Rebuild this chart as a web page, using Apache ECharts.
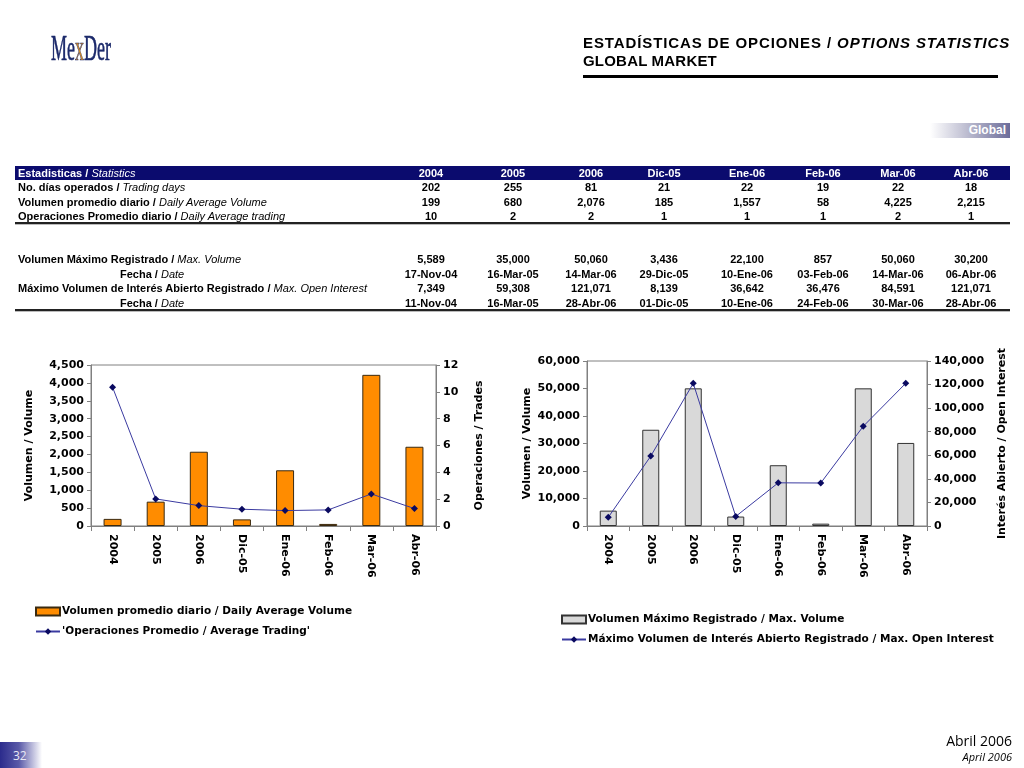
<!DOCTYPE html>
<html>
<head>
<meta charset="utf-8">
<script src="https://cdn.jsdelivr.net/npm/echarts@6/dist/echarts.min.js"></script>
<style>
  html,body{margin:0;padding:0;background:#fff;}
  #page{position:relative;width:1024px;height:768px;overflow:hidden;background:#fff;font-family:"Liberation Sans",Arial,sans-serif;}
  #chart{position:absolute;left:0;top:0;width:1024px;height:768px;}
  .abs{position:absolute;white-space:nowrap;}
  .cell{position:absolute;white-space:nowrap;font-size:11px;font-weight:bold;color:#000;line-height:14px;}
  .num{width:90px;text-align:center;}
  .it{font-style:italic;font-weight:normal;}
</style>
</head>
<body>
<div id="page">
  <div id="chart"></div>
  <div id="overlay"></div>
</div>
<script>
// ---------- DATA ----------
const categories = ['2004', '2005', '2006', 'Dic-05', 'Ene-06', 'Feb-06', 'Mar-06', 'Abr-06'];
const tradingDays = [202, 255, 81, 21, 22, 19, 22, 18];
const dailyAvgVolume = [199, 680, 2076, 185, 1557, 58, 4225, 2215];
const dailyAvgTradesTable = [10, 2, 2, 1, 1, 1, 2, 1];
const avgTradingLine = [10.34, 2.02, 1.52, 1.25, 1.15, 1.2, 2.39, 1.3];
const maxVolume = [5589, 35000, 50060, 3436, 22100, 857, 50060, 30200];
const maxVolumeDate = ['17-Nov-04', '16-Mar-05', '14-Mar-06', '29-Dic-05', '10-Ene-06', '03-Feb-06', '14-Mar-06', '06-Abr-06'];
const maxOpenInterest = [7349, 59308, 121071, 8139, 36642, 36476, 84591, 121071];
const maxOpenInterestDate = ['11-Nov-04', '16-Mar-05', '28-Abr-06', '01-Dic-05', '10-Ene-06', '24-Feb-06', '30-Mar-06', '28-Abr-06'];

// ---------- LAYOUT ----------
const colCenters = [431, 513, 591, 664, 747, 823, 898, 971];
const fmt = v => v.toLocaleString('en-US');

const ov = document.getElementById('overlay');
function add(html, style, cls) {
  const d = document.createElement('div');
  d.className = cls || 'abs';
  d.innerHTML = html;
  Object.assign(d.style, style);
  ov.appendChild(d);
  return d;
}

// Logo
add('<span style="color:#1c2a6b">Me</span><span style="color:#d08a2c">x</span><span style="color:#1c2a6b">Der</span>',
  {left:'51px', top:'28px', fontFamily:'"Liberation Serif","DejaVu Serif",serif', fontSize:'36px', lineHeight:'40px', transform:'scaleX(0.5)', transformOrigin:'left top', WebkitTextStroke:'0.6px #1c2a6b'});

// Title
add('ESTADÍSTICAS DE OPCIONES / <i>OPTIONS STATISTICS</i>',
  {left:'583px', top:'34px', fontSize:'15px', letterSpacing:'0.9px', fontWeight:'bold', color:'#000'});
add('GLOBAL MARKET', {left:'583px', top:'52px', fontSize:'15px', letterSpacing:'0.2px', fontWeight:'bold', color:'#000'});
add('', {left:'583px', top:'75px', width:'415px', height:'3px', background:'#000'});

// Global tag
add('', {left:'930px', top:'123px', width:'80px', height:'15px', background:'linear-gradient(to right,#ffffff 0%,#9a9ab8 70%,#6c6c9a 100%)'});
add('Global', {left:'962px', top:'123px', width:'44px', textAlign:'right', fontSize:'12px', lineHeight:'15px', fontWeight:'bold', color:'#fff'});

// Table header
add('', {left:'15px', top:'166px', width:'995px', height:'14px', background:'#0b0b6e'});
add('Estadisticas / <span class="it">Statistics</span>', {left:'18px', top:'166px', color:'#fff'}, 'cell');
categories.forEach((c, i) => add(c, {left:(colCenters[i]-45)+'px', top:'166px', color:'#fff'}, 'cell num'));

// Block 1
const rows1 = [
  ['No. días operados / <span class="it">Trading days</span>', tradingDays.map(fmt)],
  ['Volumen promedio diario / <span class="it">Daily Average Volume</span>', dailyAvgVolume.map(fmt)],
  ['Operaciones Promedio diario / <span class="it">Daily Average trading</span>', dailyAvgTradesTable.map(fmt)]
];
rows1.forEach((r, k) => {
  const top = 180 + k * 14.5;
  add(r[0], {left:'18px', top:top+'px'}, 'cell');
  r[1].forEach((v, i) => add(v, {left:(colCenters[i]-45)+'px', top:top+'px'}, 'cell num'));
});
add('', {left:'15px', top:'222px', width:'995px', height:'2px', background:'#222'});
add('', {left:'15px', top:'224px', width:'995px', height:'1px', background:'#bbb'});

// Block 2
const rows2 = [
  ['Volumen Máximo Registrado / <span class="it">Max. Volume</span>', maxVolume.map(fmt), 18],
  ['Fecha / <span class="it">Date</span>', maxVolumeDate, 120],
  ['Máximo Volumen de Interés Abierto Registrado / <span class="it">Max. Open Interest</span>', maxOpenInterest.map(fmt), 18],
  ['Fecha / <span class="it">Date</span>', maxOpenInterestDate, 120]
];
rows2.forEach((r, k) => {
  const top = 252 + k * 14.5;
  add(r[0], {left:r[2]+'px', top:top+'px'}, 'cell');
  r[1].forEach((v, i) => add(v, {left:(colCenters[i]-45)+'px', top:top+'px'}, 'cell num'));
});
add('', {left:'15px', top:'309px', width:'995px', height:'2px', background:'#222'});
add('', {left:'15px', top:'311px', width:'995px', height:'1px', background:'#bbb'});

// Footer
add('', {left:'0px', top:'742px', width:'42px', height:'26px', background:'linear-gradient(to right,#2b2b8c 0%,#5a5aa8 45%,#ffffff 100%)'});
add('32', {left:'13px', top:'747px', fontSize:'12px', color:'#e8e8f4', fontFamily:'"Open Sans",sans-serif'});
add('Abril 2006', {right:'12px', top:'731px', fontSize:'14px', color:'#000', fontFamily:'"Open Sans",sans-serif'});
add('April 2006', {right:'12px', top:'749px', fontSize:'11px', fontStyle:'italic', color:'#000', fontFamily:'"Open Sans",sans-serif'});

// ---------- CHARTS ----------
const chart = echarts.init(document.getElementById('chart'), null, {renderer:'canvas'});
const FONT = '"DejaVu Sans", Verdana, sans-serif';
const lbl = {fontFamily:FONT, fontWeight:'bold', fontSize:11, color:'#000'};
const axisLineStyle = {show:true, lineStyle:{color:'#808080', width:1}};

function xAx(g) {
  return {
    gridIndex:g, type:'category', data:categories,
    axisLine:axisLineStyle,
    axisTick:{show:true, length:5, lineStyle:{color:'#808080'}},
    axisLabel:Object.assign({rotate:-90, margin:8, interval:0}, lbl),
    splitLine:{show:false}
  };
}
function yAx(g, pos, max, interval, name, gap) {
  return {
    gridIndex:g, type:'value', position:pos, min:0, max:max, interval:interval,
    name:name, nameLocation:'middle', nameRotate:90, nameGap:gap,
    nameTextStyle:{fontFamily:FONT, fontWeight:'bold', fontSize:11, color:'#000'},
    axisLine:axisLineStyle,
    axisTick:{show:true, length:4, lineStyle:{color:'#808080'}},
    axisLabel:Object.assign({margin:7, formatter:v => fmt(v)}, lbl),
    splitLine:{show:false}
  };
}

const legendText = {fontFamily:FONT, fontWeight:'bold', fontSize:10.5, color:'#000', padding:[0,0,0,-3]};
const option = {
  animation:false,
  grid:[
    {left:91, right:1024-436, top:365, bottom:768-526, show:true, borderColor:'#808080', borderWidth:1, backgroundColor:'transparent', containLabel:false},
    {left:587, right:1024-927, top:361, bottom:768-526, show:true, borderColor:'#808080', borderWidth:1, backgroundColor:'transparent', containLabel:false}
  ],
  xAxis:[xAx(0), xAx(1)],
  yAxis:[
    yAx(0, 'left', 4500, 500, 'Volumen / Volume', 56),
    yAx(0, 'right', 12, 2, 'Operaciones / Trades', 38),
    yAx(1, 'left', 60000, 10000, 'Volumen / Volume', 54),
    yAx(1, 'right', 140000, 20000, 'Interés Abierto / Open Interest', 70)
  ],
  legend:[
    {
      orient:'vertical', left:30, top:601, itemGap:9, itemWidth:24, itemHeight:8,
      data:[{name:'Volumen promedio diario / Daily Average Volume', icon:'rect'}, "'Operaciones Promedio / Average Trading'"],
      textStyle:legendText
    },
    {
      orient:'vertical', left:556, top:609, itemGap:9, itemWidth:24, itemHeight:8,
      data:[{name:'Volumen Máximo Registrado / Max. Volume', icon:'rect'}, 'Máximo Volumen de Interés Abierto Registrado / Max. Open Interest'],
      textStyle:legendText
    }
  ],
  series:[
    {
      name:'Volumen promedio diario / Daily Average Volume', type:'bar', xAxisIndex:0, yAxisIndex:0,
      data:dailyAvgVolume, barWidth:18,
      itemStyle:{color:'#ff8c00', borderColor:'#3a2a10', borderWidth:1}
    },
    {
      name:"'Operaciones Promedio / Average Trading'", type:'line', xAxisIndex:0, yAxisIndex:1,
      data:avgTradingLine, symbol:'diamond', symbolSize:7,
      lineStyle:{color:'#3a3aa0', width:1}, itemStyle:{color:'#0a0a60'}
    },
    {
      name:'Volumen Máximo Registrado / Max. Volume', type:'bar', xAxisIndex:1, yAxisIndex:2,
      data:maxVolume, barWidth:17,
      itemStyle:{color:'#d9d9d9', borderColor:'#333', borderWidth:1}
    },
    {
      name:'Máximo Volumen de Interés Abierto Registrado / Max. Open Interest', type:'line', xAxisIndex:1, yAxisIndex:3,
      data:maxOpenInterest, symbol:'diamond', symbolSize:7,
      lineStyle:{color:'#3a3aa0', width:1}, itemStyle:{color:'#0a0a60'}
    }
  ]
};
chart.setOption(option);
</script>
</body>
</html>
